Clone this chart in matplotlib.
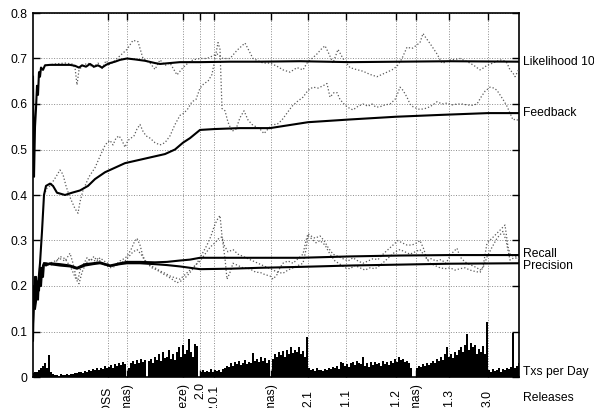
import numpy as np
import matplotlib
matplotlib.use('Agg')
import matplotlib.pyplot as plt
import matplotlib.transforms as mtransforms

plt.rcParams['font.family'] = ['Liberation Sans', 'DejaVu Sans']
plt.rcParams['font.size'] = 8.7

# releases (day index on the x axis)
release_day = [108, 127, 183, 200, 214, 271, 308, 346, 396, 416, 449, 488]
release_name = ['Eclipse OSS', '(Christmas)', '(Freeze)', '2.0', '2.0.1', '(Christmas)',
                '2.1', '2.1.1', '2.1.2', '(Christmas)', '2.1.3', '3.0']

# likelihood 10: cumulative (thick) and moving (dotted)
lik_avg_day = [33, 34, 35, 36, 37, 38, 39, 40, 41, 43, 45, 50, 60, 70, 75, 79, 82, 86, 90, 94,
               98, 102, 106, 110, 115, 120, 127, 135, 145, 155, 160, 170, 180, 200, 230, 260,
               300, 350, 400, 450, 519]
lik_avg = [0.66, 0.44, 0.55, 0.59, 0.64, 0.62, 0.67, 0.66, 0.68, 0.675, 0.685, 0.686, 0.686,
           0.686, 0.684, 0.68, 0.685, 0.682, 0.688, 0.682, 0.685, 0.68, 0.686, 0.69, 0.693,
           0.697, 0.70, 0.698, 0.695, 0.69, 0.688, 0.69, 0.692, 0.692, 0.693, 0.693, 0.694,
           0.692, 0.693, 0.694, 0.693]
lik_raw_day = [45, 55, 65, 72, 75, 77, 79, 83, 88, 93, 98, 102, 106, 110, 117, 122, 127, 133,
               138, 143, 150, 155, 160, 165, 170, 177, 183, 188, 193, 200, 207, 212, 217, 223,
               230, 237, 245, 253, 258, 263, 270, 277, 283, 290, 297, 303, 307, 312, 317, 321,
               325, 329, 333, 338, 343, 350, 356, 363, 370, 377, 382, 387, 392, 397, 402, 407,
               412, 417, 420, 423, 426, 430, 434, 437, 442, 446, 450, 455, 460, 465, 470, 475,
               480, 484, 487, 493, 500, 504, 507, 510, 513, 515, 519]
lik_raw = [0.685, 0.688, 0.69, 0.688, 0.68, 0.642, 0.675, 0.685, 0.69, 0.68, 0.69, 0.678,
           0.695, 0.686, 0.70, 0.71, 0.72, 0.74, 0.737, 0.70, 0.69, 0.676, 0.697, 0.685, 0.69,
           0.664, 0.68, 0.69, 0.697, 0.70, 0.70, 0.705, 0.71, 0.70, 0.70, 0.718, 0.734, 0.70,
           0.695, 0.69, 0.69, 0.683, 0.675, 0.67, 0.68, 0.675, 0.69, 0.70, 0.71, 0.72, 0.728,
           0.71, 0.69, 0.72, 0.70, 0.68, 0.676, 0.672, 0.665, 0.66, 0.665, 0.67, 0.675, 0.683,
           0.70, 0.725, 0.722, 0.73, 0.735, 0.755, 0.745, 0.733, 0.72, 0.71, 0.69, 0.692,
           0.697, 0.698, 0.70, 0.695, 0.69, 0.683, 0.675, 0.68, 0.685, 0.69, 0.697, 0.695, 0.69,
           0.675, 0.668, 0.66, 0.677]

# feedback
fb_avg_day = [35, 38, 40, 42, 44, 46, 50, 53, 57, 65, 72, 80, 88, 95, 105, 115, 125, 135, 145,
              155, 165, 175, 183, 190, 200, 215, 240, 270, 308, 350, 396, 440, 488, 519]
fb_avg = [0.15, 0.2, 0.25, 0.32, 0.40, 0.42, 0.425, 0.42, 0.405, 0.40, 0.405, 0.41, 0.42,
          0.435, 0.45, 0.46, 0.47, 0.475, 0.48, 0.485, 0.49, 0.50, 0.515, 0.525, 0.543, 0.545,
          0.547, 0.547, 0.56, 0.566, 0.572, 0.576, 0.58, 0.58]
fb_raw_day = [44, 47, 50, 53, 56, 60, 63, 66, 69, 72, 75, 78, 80, 83, 86, 89, 92, 95, 98, 101,
              104, 107, 110, 113, 116, 119, 122, 125, 128, 131, 134, 137, 140, 143, 146, 150,
              155, 160, 165, 170, 175, 180, 184, 188, 192, 196, 200, 204, 208, 212, 215, 218,
              220, 222, 225, 228, 232, 236, 240, 244, 248, 252, 256, 260, 264, 268, 272, 277,
              282, 287, 292, 297, 303, 308, 313, 318, 323, 327, 330, 334, 337, 340, 344, 347,
              350, 353, 358, 363, 368, 372, 376, 380, 385, 390, 395, 398, 400, 403, 407, 410,
              413, 417, 420, 425, 430, 434, 437, 442, 447, 452, 457, 462, 467, 472, 477, 481,
              485, 490, 494, 497, 500, 503, 507, 510, 513, 516, 519]
fb_raw = [0.40, 0.415, 0.42, 0.43, 0.44, 0.455, 0.445, 0.42, 0.40, 0.385, 0.37, 0.36, 0.385,
          0.41, 0.425, 0.44, 0.45, 0.46, 0.475, 0.49, 0.505, 0.515, 0.52, 0.51, 0.525, 0.53,
          0.52, 0.505, 0.52, 0.525, 0.53, 0.545, 0.555, 0.54, 0.53, 0.525, 0.515, 0.51, 0.515,
          0.53, 0.555, 0.575, 0.58, 0.59, 0.605, 0.61, 0.635, 0.645, 0.65, 0.665, 0.70, 0.735,
          0.72, 0.59, 0.585, 0.56, 0.54, 0.545, 0.57, 0.585, 0.565, 0.555, 0.55, 0.545, 0.535,
          0.545, 0.555, 0.555, 0.565, 0.58, 0.595, 0.605, 0.615, 0.63, 0.637, 0.635, 0.64,
          0.645, 0.615, 0.625, 0.625, 0.61, 0.60, 0.594, 0.59, 0.587, 0.595, 0.60, 0.595, 0.60,
          0.593, 0.594, 0.598, 0.60, 0.61, 0.625, 0.637, 0.63, 0.615, 0.60, 0.594, 0.59, 0.588,
          0.59, 0.594, 0.60, 0.605, 0.60, 0.602, 0.598, 0.60, 0.60, 0.598, 0.597, 0.60, 0.615,
          0.628, 0.637, 0.635, 0.63, 0.62, 0.61, 0.595, 0.58, 0.565, 0.567, 0.562]

# recall / precision cumulative
rp_avg_day = [33, 34, 35, 36, 37, 38, 39, 40, 41, 42, 43, 44, 46, 50, 60, 70, 77, 85, 93, 100,
              110, 120, 127, 140, 155, 167, 180, 190, 200, 230, 260, 300, 350, 400, 450, 519]
recall_avg = [0.08, 0.2, 0.16, 0.22, 0.18, 0.21, 0.19, 0.24, 0.2, 0.235, 0.22, 0.25, 0.245,
              0.25, 0.248, 0.245, 0.24, 0.248, 0.25, 0.252, 0.245, 0.25, 0.253, 0.253, 0.252,
              0.253, 0.256, 0.258, 0.262, 0.262, 0.262, 0.262, 0.265, 0.267, 0.268, 0.268]
precision_avg = [0.12, 0.17, 0.22, 0.18, 0.21, 0.17, 0.22, 0.21, 0.24, 0.22, 0.245, 0.25,
                 0.25, 0.248, 0.245, 0.243, 0.238, 0.245, 0.248, 0.25, 0.244, 0.248, 0.25,
                 0.25, 0.248, 0.246, 0.243, 0.24, 0.237, 0.238, 0.24, 0.242, 0.245, 0.247,
                 0.249, 0.25]

rec_raw_day = [45, 50, 55, 60, 65, 70, 73, 76, 78, 80, 84, 87, 90, 94, 97, 100, 104, 108, 111,
               115, 120, 124, 127, 131, 134, 137, 140, 143, 147, 152, 157, 162, 167, 172, 177,
               182, 187, 192, 197, 202, 207, 211, 214, 217, 220, 222, 225, 227, 230, 233, 238,
               243, 247, 252, 256, 260, 265, 270, 273, 277, 280, 283, 288, 293, 298, 303, 306,
               308, 311, 315, 320, 324, 328, 333, 338, 343, 348, 353, 358, 363, 368, 373, 378,
               383, 388, 393, 398, 402, 407, 412, 417, 420, 424, 427, 431, 436, 441, 446, 451,
               457, 460, 464, 467, 472, 477, 480, 483, 487, 492, 497, 501, 505, 508, 510, 514,
               517, 519]
rec_raw = [0.245, 0.25, 0.255, 0.26, 0.255, 0.272, 0.25, 0.22, 0.213, 0.235, 0.25, 0.262,
           0.255, 0.265, 0.255, 0.262, 0.255, 0.25, 0.242, 0.245, 0.255, 0.26, 0.265, 0.28,
           0.295, 0.305, 0.29, 0.265, 0.25, 0.24, 0.235, 0.228, 0.222, 0.215, 0.207, 0.212,
           0.222, 0.235, 0.25, 0.27, 0.29, 0.31, 0.33, 0.345, 0.355, 0.31, 0.26, 0.215, 0.23,
           0.25, 0.245, 0.24, 0.24, 0.235, 0.23, 0.23, 0.225, 0.222, 0.215, 0.225, 0.24, 0.25,
           0.255, 0.25, 0.26, 0.27, 0.30, 0.315, 0.31, 0.305, 0.31, 0.30, 0.285, 0.27, 0.265,
           0.26, 0.255, 0.262, 0.255, 0.25, 0.255, 0.26, 0.258, 0.27, 0.28, 0.29, 0.30, 0.295,
           0.29, 0.29, 0.295, 0.30, 0.28, 0.257, 0.26, 0.255, 0.258, 0.25, 0.27, 0.283, 0.264,
           0.255, 0.25, 0.245, 0.24, 0.235, 0.242, 0.294, 0.305, 0.316, 0.325, 0.334, 0.286,
           0.27, 0.265, 0.264, 0.26]

prec_raw_day = [45, 50, 55, 60, 65, 68, 72, 76, 79, 82, 86, 90, 94, 98, 102, 106, 110, 115,
                120, 125, 129, 133, 137, 141, 145, 150, 155, 160, 165, 170, 175, 180, 185, 190,
                195, 200, 205, 210, 215, 219, 222, 224, 228, 233, 238, 243, 248, 253, 258, 263,
                268, 273, 278, 283, 288, 293, 298, 303, 306, 308, 311, 316, 320, 325, 330, 335,
                340, 345, 350, 355, 360, 365, 370, 375, 380, 385, 390, 395, 400, 405, 410, 415,
                420, 425, 430, 435, 440, 445, 450, 455, 460, 465, 470, 475, 480, 484, 487, 492,
                497, 503, 506, 510, 514, 519]
prec_raw = [0.25, 0.245, 0.25, 0.265, 0.26, 0.25, 0.235, 0.215, 0.205, 0.23, 0.25, 0.26,
            0.255, 0.26, 0.25, 0.245, 0.24, 0.243, 0.25, 0.255, 0.265, 0.275, 0.28, 0.27,
            0.255, 0.245, 0.24, 0.233, 0.228, 0.222, 0.218, 0.215, 0.225, 0.235, 0.245, 0.255,
            0.27, 0.285, 0.295, 0.305, 0.308, 0.29, 0.275, 0.28, 0.27, 0.265, 0.26, 0.255,
            0.25, 0.245, 0.24, 0.235, 0.23, 0.228, 0.235, 0.24, 0.245, 0.25, 0.28, 0.31, 0.305,
            0.295, 0.30, 0.29, 0.27, 0.255, 0.248, 0.24, 0.238, 0.245, 0.24, 0.235, 0.24,
            0.238, 0.245, 0.255, 0.265, 0.275, 0.28, 0.275, 0.27, 0.275, 0.28, 0.265, 0.25,
            0.245, 0.24, 0.238, 0.24, 0.235, 0.238, 0.24, 0.235, 0.232, 0.23, 0.245, 0.264,
            0.285, 0.305, 0.32, 0.30, 0.257, 0.262, 0.26]

# transactions per day (one bar every second day, starting at day 33)
txs_day = [0.008, 0.012, 0.01, 0.015, 0.02, 0.025, 0.03, 0.02,
           0.048, 0.012,
           0.006, 0.004, 0.005, 0.003, 0.006, 0.005, 0.004, 0.006, 0.005, 0.007, 0.006, 0.008,
           0.008, 0.01, 0.012, 0.009, 0.014, 0.012, 0.016, 0.013, 0.018, 0.015, 0.02, 0.016,
           0.02, 0.018, 0.024, 0.02, 0.022, 0.026, 0.02, 0.028, 0.024, 0.03, 0.026, 0.032, 0.028,
           0.0,
           0.02, 0.03, 0.035, 0.028, 0.038, 0.03, 0.04, 0.032, 0.038,
           0.0,
           0.035, 0.04, 0.03, 0.045, 0.038, 0.05, 0.035, 0.055, 0.042,
           0.045, 0.06, 0.04, 0.05, 0.038, 0.055, 0.065, 0.045,
           0.07, 0.05, 0.06, 0.083, 0.055, 0.045, 0.072, 0.068,
           0.0,
           0.012, 0.016, 0.01, 0.014, 0.012, 0.018, 0.01, 0.015, 0.013, 0.016, 0.012, 0.018,
           0.02, 0.025, 0.022, 0.03, 0.024, 0.033, 0.028, 0.035, 0.026, 0.03, 0.038, 0.028, 0.033,
           0.03, 0.053, 0.035, 0.04, 0.032, 0.045, 0.036, 0.042, 0.03, 0.038,
           0.0,
           0.04, 0.05, 0.044, 0.055, 0.048, 0.058, 0.045, 0.06, 0.05, 0.065, 0.052, 0.06, 0.055,
           0.066, 0.05, 0.058, 0.045,
           0.088,
           0.02, 0.015, 0.018, 0.014, 0.02, 0.016, 0.015, 0.013, 0.018, 0.016, 0.02, 0.018,
           0.022, 0.02, 0.025, 0.018, 0.034,
           0.03, 0.025, 0.028, 0.022, 0.03, 0.032, 0.026, 0.036, 0.03, 0.028, 0.044,
           0.025, 0.03, 0.022, 0.032, 0.026, 0.034, 0.028, 0.03, 0.025, 0.035, 0.028, 0.032,
           0.026, 0.036, 0.03, 0.04, 0.034, 0.044,
           0.038, 0.04, 0.032, 0.036, 0.03, 0.02,
           0.0, 0.0,
           0.02, 0.025, 0.022, 0.028, 0.024, 0.03, 0.026, 0.03,
           0.035, 0.03, 0.04, 0.036, 0.045, 0.038, 0.05, 0.066, 0.045, 0.05, 0.042, 0.055,
           0.048, 0.06,
           0.065, 0.055, 0.07, 0.095, 0.06, 0.075, 0.065, 0.07, 0.05, 0.062, 0.055, 0.068,
           0.05, 0.12,
           0.015, 0.012, 0.018, 0.014, 0.016, 0.02, 0.012, 0.018, 0.015, 0.02, 0.018, 0.022,
           0.096, 0.02, 0.025, 0.03]

# label placement (px below the axis for the release names)
release_drop = [11, 6, 6, 5, 8, 6, 13, 12, 12, 6, 12, 13]

fig = plt.figure(figsize=(5.94, 4.08), dpi=100)
ax = fig.add_axes([33 / 594, 31 / 408, 486 / 594, 364 / 408])

bar_x = np.arange(33, 33 + 2 * len(txs_day), 2)
ax.bar(bar_x, txs_day, width=1.6, color='black', linewidth=0, zorder=2)

gray = '0.35'
ax.plot(lik_raw_day, lik_raw, color=gray, lw=0.9, ls=':', zorder=3)
ax.plot(fb_raw_day, fb_raw, color=gray, lw=0.9, ls=':', zorder=3)
ax.plot(rec_raw_day, rec_raw, color=gray, lw=0.9, ls=':', zorder=3)
ax.plot(prec_raw_day, prec_raw, color=gray, lw=0.9, ls=':', zorder=3)

ax.plot(lik_avg_day, lik_avg, color='black', lw=1.5, zorder=4)
ax.plot(fb_avg_day, fb_avg, color='black', lw=1.5, zorder=4)
ax.plot(rp_avg_day, recall_avg, color='black', lw=1.5, zorder=4)
ax.plot(rp_avg_day, precision_avg, color='black', lw=1.5, zorder=4)

ax.set_xlim(33, 519)
ax.set_ylim(0, 0.8)
ax.set_yticks(np.arange(0, 0.81, 0.1))
ax.set_yticklabels(['0', '0.1', '0.2', '0.3', '0.4', '0.5', '0.6', '0.7', '0.8'])
ax.set_xticks(release_day)
ax.set_xticklabels([])
ax.tick_params(direction='in', top=True, right=True, length=5, width=1, pad=4)
ax.grid(True, color='0.55', ls=':', lw=0.7)
for s in ax.spines.values():
    s.set_linewidth(1.2)

# release names, rotated and cut by the bottom of the figure
for d, name, drop in zip(release_day, release_name, release_drop):
    off = mtransforms.offset_copy(ax.get_xaxis_transform(), fig=fig, x=0, y=-drop * 0.72, units='points')
    ax.text(d, 0, name, transform=off, rotation=90, ha='center', va='top', fontsize=8.7)

# series labels at the right
right = mtransforms.blended_transform_factory(ax.transAxes, ax.transData)
ax.text(1.008, 0.692, 'Likelihood 10', transform=right, va='center', ha='left')
ax.text(1.008, 0.58, 'Feedback', transform=right, va='center', ha='left')
ax.text(1.008, 0.271, 'Recall', transform=right, va='center', ha='left')
ax.text(1.008, 0.243, 'Precision', transform=right, va='center', ha='left')
ax.text(1.008, 0.011, 'Txs per Day', transform=right, va='center', ha='left')
ax.text(1.008, -0.046, 'Releases', transform=right, va='center', ha='left')

fig.savefig('out.png', dpi=100)
